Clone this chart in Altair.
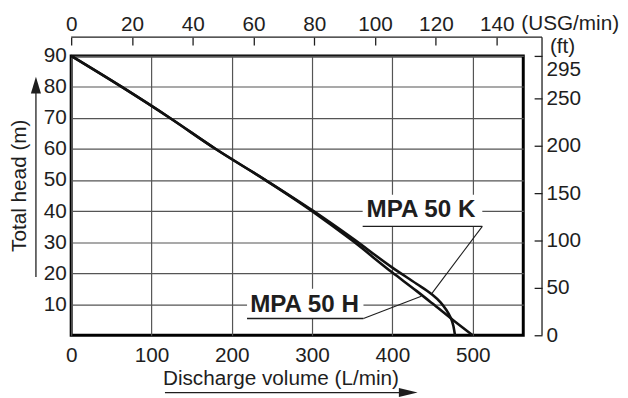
import altair as alt
import pandas as pd

# ---- data ----
flow_h = [0, 63, 123, 180, 242, 300, 350, 400, 430, 450, 475, 500]
head_h = [90, 80, 70, 60, 50, 40, 30.5, 20.2, 14.3, 10.2, 5, 0]
flow_k = [0, 63, 123, 180, 242, 300, 350, 400, 430, 449, 460, 467, 472, 476, 478]
head_k = [90, 80, 70, 60, 50, 40.3, 31.3, 21.8, 16.6, 13.2, 10.6, 8.2, 6, 3, 0]

x_ticks = [0, 100, 200, 300, 400, 500]
y_ticks = [10, 20, 30, 40, 50, 60, 70, 80, 90]
usg_ticks = [0, 20, 40, 60, 80, 100, 120, 140]
ft_ticks = [0, 50, 100, 150, 200, 250, 295]

x_max = 563
y_max = 90
L_PER_USG = 3.785
FT_PER_M = 3.2808

# annotation labels (data units)
label_text = ["MPA 50 K", "MPA 50 H"]
label_flow = [435.6, 290.6]
label_head = [40.2, 9.8]
box_x1 = [363, 219]
box_x2 = [512, 364]
box_y1 = [35.1, 5.4]
box_y2 = [45.3, 15.0]
leader_end_flow = [449, 436]
leader_end_head = [13.4, 12.6]

TXT = "#1e1e1e"
FONT = "Liberation Sans"
FS = 21

xs = alt.Scale(domain=[0, x_max], nice=False, zero=False)
ys = alt.Scale(domain=[0, y_max], nice=False, zero=False)

x_axis = alt.Axis(values=x_ticks, title="Discharge volume (L/min)", grid=True,
                  ticks=False, domain=False, labelFontSize=FS, labelPadding=10,
                  labelColor=TXT, labelFlush=False, titleFontSize=FS,
                  titleFontWeight="normal", titleColor=TXT, titleX=212, titleY=44,
                  titleBaseline="middle", titleAlign="center",
                  gridColor="#555", gridWidth=1.2)
y_axis = alt.Axis(values=y_ticks, title="Total head (m)", grid=True,
                  ticks=False, domain=False, labelFontSize=FS, labelPadding=5,
                  labelColor=TXT, labelFlush=False, titleFontSize=FS,
                  titleFontWeight="normal", titleColor=TXT, titleX=-52, titleY=131,
                  titleAngle=270, titleBaseline="middle", titleAlign="center",
                  gridColor="#555", gridWidth=1.2)


def X(f):
    return alt.X(f, scale=xs, axis=x_axis)


def Y(f):
    return alt.Y(f, scale=ys, axis=y_axis)


curves = pd.DataFrame({
    "flow": flow_h + flow_k,
    "head": head_h + head_k,
    "model": ["MPA 50 H"] * len(flow_h) + ["MPA 50 K"] * len(flow_k),
})
labels = pd.DataFrame({
    "text": label_text, "flow": label_flow, "head": label_head,
    "x1": box_x1, "x2": box_x2, "y1": box_y1, "y2": box_y2,
    "ex": leader_end_flow, "ey": leader_end_head,
})
one = pd.DataFrame({"a": [0]})

boxes = alt.Chart(labels).mark_rect(color="white").encode(
    x=X("x1:Q"), x2="x2:Q", y=Y("y1:Q"), y2="y2:Q")
lines = alt.Chart(curves).mark_line(color="#111", strokeWidth=2.6,
                                    interpolate="monotone").encode(
    x=X("flow:Q"), y=Y("head:Q"), detail="model:N")
underline = alt.Chart(labels).mark_rule(color=TXT, strokeWidth=1.3).encode(
    x=X("x1:Q"), x2="x2:Q", y=Y("y1:Q"))
leader = alt.Chart(labels).mark_rule(color=TXT, strokeWidth=1.1).encode(
    x=X("x2:Q"), x2="ex:Q", y=Y("y1:Q"), y2="ey:Q")
texts = alt.Chart(labels).mark_text(font=FONT, fontSize=24.5, fontWeight="bold",
                                    color=TXT, baseline="middle", align="center").encode(
    x=X("flow:Q"), y=Y("head:Q"), text="text:N")

# decorations: outer axis lines, unit labels, arrows
top_line = alt.Chart(one).mark_rule(color=TXT, strokeWidth=1.3).encode(
    x=alt.value(0), x2=alt.value(477), y=alt.value(-19))
right_line = alt.Chart(one).mark_rule(color=TXT, strokeWidth=1.3).encode(
    x=alt.value(477), y=alt.value(-19), y2=alt.value(283))
usg_unit = alt.Chart(one).mark_text(text="(USG/min)", font=FONT, fontSize=FS, color=TXT,
                                    align="left", baseline="middle").encode(
    x=alt.value(456), y=alt.value(-32))
ft_unit = alt.Chart(one).mark_text(text="(ft)", font=FONT, fontSize=FS, color=TXT,
                                   align="left", baseline="middle").encode(
    x=alt.value(485), y=alt.value(-9))
left_arrow = alt.Chart(one).mark_rule(color=TXT, strokeWidth=1.3).encode(
    x=alt.value(-35.7), y=alt.value(36), y2=alt.value(224))
left_head = alt.Chart(one).mark_point(shape="M0,-1L0.6,1L-0.6,1Z", filled=True, size=289,
                                      color=TXT, opacity=1, strokeWidth=0).encode(
    x=alt.value(-35.7), y=alt.value(29.5))
bottom_arrow = alt.Chart(one).mark_rule(color=TXT, strokeWidth=1.3).encode(
    x=alt.value(95), x2=alt.value(334), y=alt.value(341))
bottom_head = alt.Chart(one).mark_point(shape="M1,0L-1,-0.47L-1,0.47Z", filled=True, size=361,
                                        color=TXT, opacity=1, strokeWidth=0).encode(
    x=alt.value(341.5), y=alt.value(341))

inner = alt.layer(boxes, lines, underline, leader, texts, top_line, right_line,
                  usg_unit, ft_unit, left_arrow, left_head, bottom_arrow, bottom_head)

top_axis = alt.Chart(pd.DataFrame({"usg": usg_ticks})).mark_point(opacity=0).encode(
    x=alt.X("usg:Q", scale=alt.Scale(domain=[0, x_max / L_PER_USG], nice=False, zero=False),
            axis=alt.Axis(orient="top", values=usg_ticks, offset=11, tickSize=8,
                          tickColor=TXT, tickWidth=1.3, domain=False, labelPadding=3,
                          grid=False, title=None, labelFontSize=FS, labelColor=TXT,
                          labelFlush=False)))
right_axis = alt.Chart(pd.DataFrame({"ft": ft_ticks})).mark_point(opacity=0).encode(
    y=alt.Y("ft:Q", scale=alt.Scale(domain=[0, y_max * FT_PER_M], nice=False, zero=False),
            axis=alt.Axis(orient="right", values=ft_ticks, offset=11, tickSize=8,
                          tickColor=TXT, tickWidth=1.3, domain=False, labelPadding=4,
                          grid=False, title=None, labelFontSize=FS, labelColor=TXT,
                          labelFlush=False,
                          labelOffset=alt.condition("datum.value > 290", alt.value(14), alt.value(0)))))

chart = alt.layer(inner, top_axis, right_axis).resolve_scale(
    x="independent", y="independent"
).properties(
    width=458, height=283,
    padding={"left": 64, "top": 46, "right": 98, "bottom": 61},
    autosize=alt.AutoSizeParams(type="none"),
).configure(font=FONT).configure_view(stroke="black", strokeWidth=3)

chart.save("out.html", embed_options={"renderer": "svg", "actions": False})
